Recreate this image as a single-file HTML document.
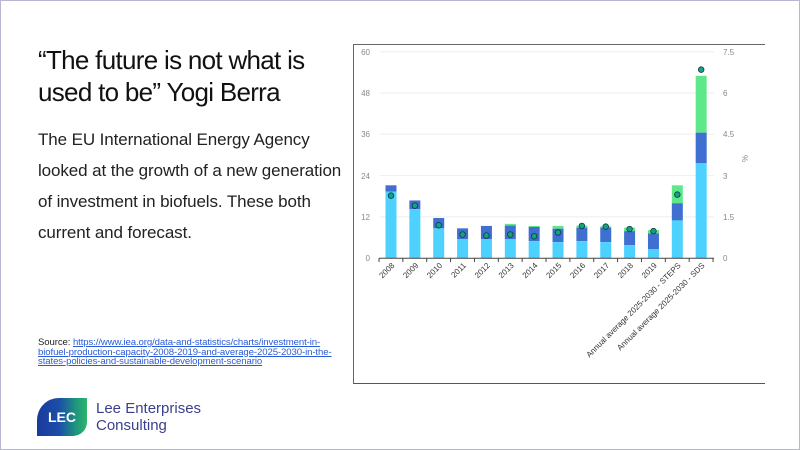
<!DOCTYPE html>
<html><head><meta charset="utf-8"><style>
html,body{margin:0;padding:0;}
body{width:800px;height:450px;position:relative;background:#fff;overflow:hidden;font-family:"Liberation Sans",sans-serif;}
.frame{position:absolute;left:0;top:0;width:798px;height:448px;border:1px solid #b8b6d0;}
.title{position:absolute;left:38px;top:44px;font-size:26px;line-height:32px;color:#111;white-space:nowrap;letter-spacing:-0.7px;}
.body{position:absolute;left:38px;top:124px;font-size:17px;line-height:31px;color:#222;white-space:nowrap;letter-spacing:-0.1px;}
.src{position:absolute;left:38px;top:338px;font-size:9.6px;line-height:9.6px;color:#222;white-space:nowrap;letter-spacing:-0.1px;}
.src a{color:#2a5bd7;text-decoration:underline;}
.logo{position:absolute;left:37px;top:398px;width:50px;height:38px;border-radius:22px 0 14px 0;background:linear-gradient(90deg,#1a3a9c 0%,#1b4fa8 45%,#1f9a7a 80%,#2bb56b 100%);color:#fff;font-weight:bold;font-size:14px;line-height:38px;text-align:center;}
.lname{position:absolute;left:96px;top:400px;font-size:15px;line-height:17px;color:#3b3f8f;}
.chart{position:absolute;left:353px;top:44px;width:411px;height:338px;border:1px solid #666;border-right:none;border-bottom:1px solid #555;}
</style></head><body>
<div class="frame"></div>
<div class="title">“The future is not what is<br>used to be” Yogi Berra</div>
<div class="body">The EU International Energy Agency<br>looked at the growth of a new generation<br>of investment in biofuels. These both<br>current and forecast.</div>
<div class="src">Source: <a>https://www.iea.org/data-and-statistics/charts/investment-in-</a><br><a>biofuel-production-capacity-2008-2019-and-average-2025-2030-in-the-</a><br><a>states-policies-and-sustainable-development-scenario</a></div>
<div class="logo">LEC</div>
<div class="lname">Lee Enterprises<br>Consulting</div>
<div class="chart"></div>
<svg width="800" height="450" style="position:absolute;left:0;top:0" font-family="Liberation Sans, sans-serif">
<g stroke="#eee" stroke-width="1">
<line x1="380" x2="714" y1="51.7" y2="51.7"/><line x1="380" x2="714" y1="93" y2="93"/><line x1="380" x2="714" y1="134.3" y2="134.3"/><line x1="380" x2="714" y1="175.6" y2="175.6"/><line x1="380" x2="714" y1="216.9" y2="216.9"/>
</g>
<g font-size="8" fill="#888" text-anchor="end">
<text x="370" y="55">60</text><text x="370" y="96">48</text><text x="370" y="137">36</text><text x="370" y="179">24</text><text x="370" y="220">12</text><text x="370" y="261">0</text>
</g>
<g font-size="8" fill="#888">
<text x="723" y="55">7.5</text><text x="723" y="96">6</text><text x="723" y="137">4.5</text><text x="723" y="179">3</text><text x="723" y="220">1.5</text><text x="723" y="261">0</text>
<text x="742" y="155" transform="rotate(90 742 155)">%</text>
</g>
<g id="bars"></g>
<line x1="379" x2="714" y1="258.3" y2="258.3" stroke="#444"/>
<g stroke="#444" id="ticks"></g>
<g font-size="8" fill="#333" id="labels" text-anchor="end"></g>
<script>
var d=[[19.4,21.2,21.2,18.2],[14.3,16.8,16.8,15.3],[8.7,11.7,11.7,9.6],[5.6,8.7,8.7,6.9],[5.6,9.4,9.4,6.6],[5.6,9.5,10,6.9],[5.0,9.1,9.4,6.4],[4.7,8.6,9.4,7.5],[5.0,8.9,9.5,9.4],[4.7,8.9,9.3,9.2],[3.8,7.9,8.9,8.5],[2.7,7.2,8.2,7.9],[11,16,21.2,18.5],[27.6,36.5,53,54.8]];
var L=["2008","2009","2010","2011","2012","2013","2014","2015","2016","2017","2018","2019","Annual average 2025-2030 - STEPS","Annual average 2025-2030 - SDS"];
var ns="http://www.w3.org/2000/svg",b=document.getElementById("bars"),t=document.getElementById("ticks"),lb=document.getElementById("labels");
function Y(v){return 258.3-v*3.443;}
function el(p,n,a){var e=document.createElementNS(ns,n);for(var k in a)e.setAttribute(k,a[k]);p.appendChild(e);return e;}
for(var i=0;i<=14;i++){var x=379+i*23.86;el(t,"line",{x1:x,x2:x,y1:258.3,y2:262});}
d.forEach(function(r,i){var c=391+i*23.86,x=c-5.5;
el(b,"rect",{x:x,y:Y(r[2]),width:11,height:Y(r[1])-Y(r[2]),fill:"#5ee88a"});
el(b,"rect",{x:x,y:Y(r[1]),width:11,height:Y(r[0])-Y(r[1]),fill:"#3f6fd0"});
el(b,"rect",{x:x,y:Y(r[0]),width:11,height:258.3-Y(r[0]),fill:"#4dd2ff"});
el(b,"circle",{cx:c,cy:Y(r[3]),r:2.8,fill:"#16a08a",stroke:"#0b3d36","stroke-width":0.8});
var tx=el(lb,"text",{x:c+4,y:266,transform:"rotate(-45 "+(c+4)+" 266)"});tx.textContent=L[i];});
</script>
</svg>
</body></html>
